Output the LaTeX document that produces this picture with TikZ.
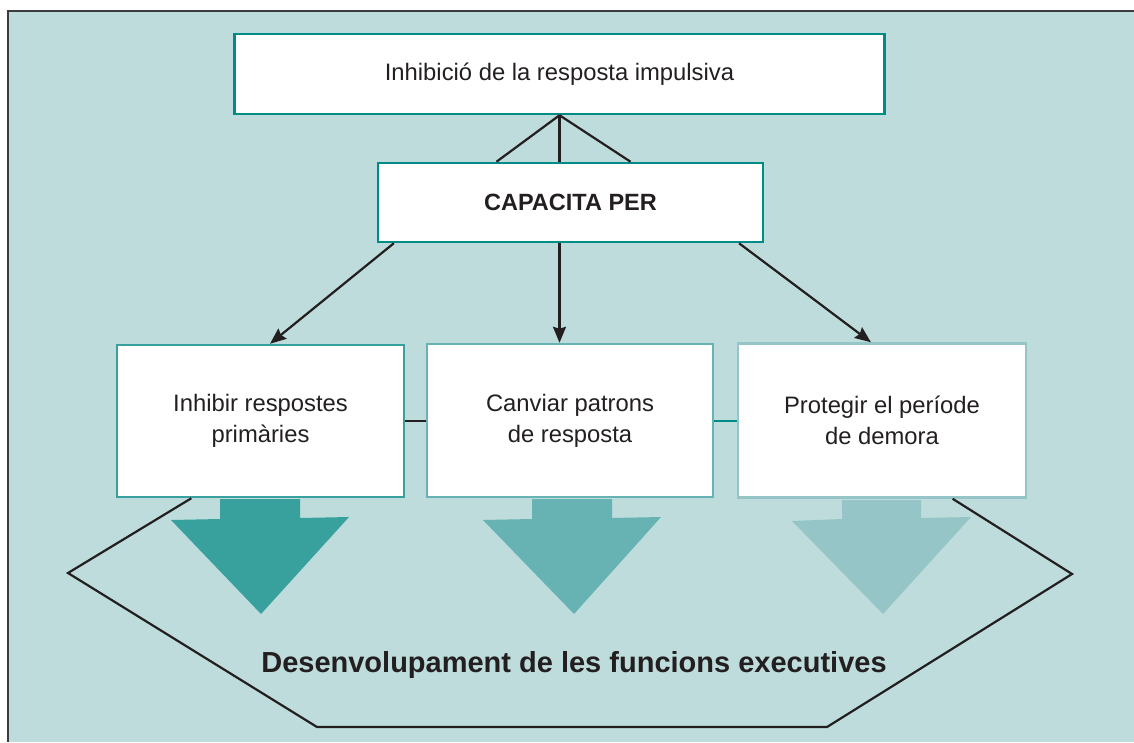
\documentclass[tikz,border=0pt]{standalone}
\usepackage{fontspec}
\setmainfont{Liberation Sans}
\usetikzlibrary{calc,arrows.meta}
\definecolor{bg}{RGB}{189,220,219}
\definecolor{frameC}{RGB}{60,60,60}
\definecolor{tealA}{RGB}{0,140,134}
\definecolor{tealB}{RGB}{56,161,158}
\definecolor{tealC}{RGB}{103,178,179}
\definecolor{tealD}{RGB}{149,197,198}
\definecolor{txt}{RGB}{35,31,32}
\tikzset{
  box/.style={draw, fill=white, line width=2.5pt, inner sep=0pt, text=txt,
    font=\fontsize{23.8}{31}\selectfont, align=center},
  conn/.style={draw=txt, line width=2.2pt},
  arr/.style={conn, -{Stealth[length=16pt,width=13pt,inset=2pt]}},
}
\begin{document}
\begin{tikzpicture}[x=1pt,y=-1pt]
\useasboundingbox (0,0) rectangle (1134,742);
\fill[bg] (8,11) rectangle (1134,742);
\draw[frameC, line width=2pt] (8,742) -- (8,11) -- (1134,11);

% nodes
\node[box, draw=tealA, minimum width=650pt, minimum height=80pt] (top) at (559.5,74) {Inhibició de la resposta impulsiva};
\node[box, draw=tealA, minimum width=385pt, minimum height=79pt, font=\fontsize{23.5}{28}\bfseries] (cap) at (570.5,202.5) {CAPACITA PER};
\node[box, draw=tealB, minimum width=287pt, minimum height=152pt] (b1) at (260.5,421) {Inhibir respostes\\primàries};
\node[box, draw=tealC, minimum width=286pt, minimum height=153pt] (b2) at (570,420.5) {Canviar patrons\\de resposta};
\node[box, draw=tealD, minimum width=288pt, minimum height=154pt] (b3) at (882,420.5) {Protegir el període\\de demora};

% top connectors
\draw[conn] (top.south) -- ($(cap.north west)!0.309!(cap.north east)$);
\draw[conn] (top.south) -- (top.south |- cap.north);
\draw[conn] (top.south) -- ($(cap.north west)!0.655!(cap.north east)$);

% arrows to boxes
\draw[arr] ($(cap.south west)!0.044!(cap.south east)$) -- ($(b1.north west)!0.533!(b1.north east)$);
\draw[arr] (top.south |- cap.south) -- (top.south |- b2.north);
\draw[arr] ($(cap.south west)!0.935!(cap.south east)$) -- ($(b3.north west)!0.462!(b3.north east)$);

% side links
\draw[conn] (b1.east) -- (b1.east -| b2.west);
\draw[draw=tealA, line width=2.2pt] (b1.east -| b2.east) -- (b1.east -| b3.west);

% big arrows
\fill[tealB] (220,499) -- (300,499) -- (300,518) -- (349,517) -- (261,614) -- (171,520) -- (220,519) -- cycle;
\fill[tealC] (532,499) -- (612,499) -- (612,518) -- (661,517) -- (574,614) -- (483,520) -- (532,519) -- cycle;
\fill[tealD] (842,500) -- (921,500) -- (921,518) -- (971,517) -- (883,614) -- (792,521) -- (842,519) -- cycle;

% hexagon
\coordinate (hl) at (68,573);
\coordinate (hbl) at (317,727);
\coordinate (hbr) at (827,727);
\coordinate (hr) at (1072,574);
\draw[conn, line join=miter] ($(b1.south west)!0.261!(b1.south east)$) -- (hl) -- (hbl) -- (hbr) -- (hr) -- ($(b3.south west)!0.743!(b3.south east)$);

\node[text=txt, font=\fontsize{29}{34}\bfseries] (title) at (574,665) {Desenvolupament de les funcions executives};
\end{tikzpicture}
\end{document}
